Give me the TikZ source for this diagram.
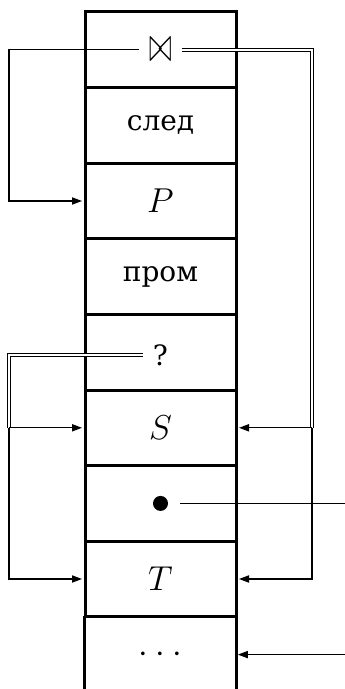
\documentclass[tikz,border=0pt]{standalone}
\usepackage{fontspec}
\usepackage{graphicx}
\newfontfamily\cellmono{DejaVu Serif}
\usetikzlibrary{arrows.meta}
\tikzset{
  cell/.style={draw, line width=1.5pt, minimum width=75.5pt, minimum height=37.8pt, inner sep=0pt},
  opencell/.style={minimum width=75.5pt, minimum height=37.8pt, inner sep=0pt},
  lbl/.style={inner xsep=5pt, inner ysep=0pt, font=\fontsize{16}{19}\selectfont},
  txt/.style={inner xsep=5pt, inner ysep=0pt, font=\cellmono\fontsize{14}{17}\selectfont},
  conn/.style={line width=0.6pt},
  arr/.style={conn, -{Triangle[length=5pt,width=3.6pt]}, shorten >=0.75pt},
  dbl/.style={double, line width=0.55pt, double distance=0.9pt},
}
\begin{document}
\begin{tikzpicture}[x=0.5pt,y=-0.5pt]
\useasboundingbox (0,0) rectangle (344,689);
% cells
\node[cell] (c1) at (160.5,49.8) {};
\node[cell] (c2) at (160.5,125.4) {};
\node[cell] (c3) at (160.5,201) {};
\node[cell] (c4) at (160.5,276.6) {};
\node[cell] (c5) at (160.5,352.2) {};
\node[cell] (c6) at (160.5,427.8) {};
\node[cell] (c7) at (160.5,503.4) {};
\node[cell] (c8) at (160.5,579) {};
\node[opencell] (c9) at (160.5,654.6) {};
\draw[line width=1.5pt] (c9.south west) -- (c9.north west);
\draw[line width=1.5pt] (c9.south east) -- (c9.north east);
% labels
\node[lbl] (bt) at (c1.center) {\scalebox{0.8}[1.45]{$\bowtie$}};
\node[txt] (sled) at (c2.center) {след};
\node[lbl] (P) at (c3.center) {$P$};
\node[txt] (prom) at (c4.center) {пром};
\node[txt, yshift=-1.5pt] (q) at (c5.center) {?};
\node[lbl] (S) at (c6.center) {$S$};
\node[circle, fill, minimum size=7.5pt, inner sep=0pt, outer sep=6pt] (bul) at (c7.center) {};
\node[lbl] (T) at (c8.center) {$T$};
\node[lbl] (dots) at (c9.center) {${\cdot}\:{\cdot}\:{\cdot}$};
% guide coordinates
\coordinate (L) at (9,0);
\coordinate (R) at (312,0);
\coordinate (E) at (346,0);
% connectors
\draw[arr] (bt.west) -- (bt.west -| L) |- (c3.west);
\draw[dbl] (bt.east) -- (bt.east -| R) -- (R |- c6.east);
\draw[arr] (R |- c6.east) -- (c6.east);
\draw[arr] (R |- c6.east) |- (c8.east);
\draw[dbl] (q.west) -- (q.west -| L) -- (L |- c6.west);
\draw[arr] (L |- c6.west) -- (c6.west);
\draw[arr] (L |- c6.west) |- (c8.west);
\draw[conn] (bul.east) -- (bul.east -| E);
\draw[arr] (E |- c9.east) -- (c9.east);
\end{tikzpicture}
\end{document}
